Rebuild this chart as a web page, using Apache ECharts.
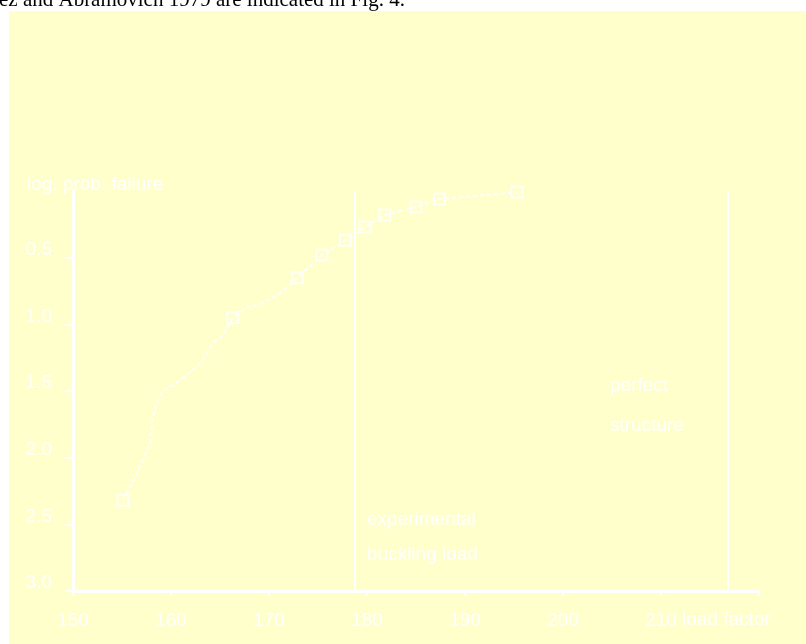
<!DOCTYPE html>
<html>
<head>
<meta charset="utf-8">
<script src="https://cdn.jsdelivr.net/npm/echarts@6/dist/echarts.min.js"></script>
<style>
html,body{margin:0;padding:0;background:#fff;}
#chart{width:806px;height:644px;}
</style>
</head>
<body>
<div id="chart"></div>
<script>
// Dashed curve through the data (load factor, log. prob. failure)
var curveX = [155.1,156.3,157.1,157.9,158.1,158.6,159.2,160.6,161.6,163.0,163.8,164.3,165.3,166.3,167.8,168.8,169.8,171.1,172.9,175.4,177.8,179.8,181.8,185.0,187.4,195.3];
var curveY = [2.32,2.15,2.02,1.89,1.72,1.57,1.50,1.44,1.38,1.29,1.20,1.14,1.08,0.95,0.87,0.86,0.82,0.77,0.65,0.48,0.37,0.27,0.18,0.12,0.06,0.01];
// Measured points (square markers)
var pointX = [155.1,166.3,172.9,175.4,177.8,179.8,181.8,185.0,187.4,195.3];
var pointY = [2.32,0.95,0.65,0.48,0.37,0.27,0.18,0.12,0.06,0.01];
// Tick labels
var xLabels = [150,160,170,180,190,200,210];
var yLabels = [0.5,1.0,1.5,2.0,2.5,3.0];
// Reference load lines
var experimentalLoad = 178.8;
var perfectLoad = 216.8;

var FONT = '"Liberation Sans", Arial, sans-serif';
var chart = echarts.init(document.getElementById('chart'));
var curveData = curveX.map(function(x,i){return [x, curveY[i]];});
var pointData = pointX.map(function(x,i){return [x, pointY[i]];});

chart.setOption({
  backgroundColor: '#ffffff',
  animation: false,
  grid: {left: 73, right: 47, top: 191, bottom: 53},
  xAxis: {
    type: 'value', min: 150, max: 220, interval: 10, position: 'bottom',
    axisLine: {show: true, onZero: false, lineStyle: {color: '#fff', width: 3}},
    axisTick: {show: true, length: 5, lineStyle: {color: '#fff', width: 2}},
    axisLabel: {customValues: xLabels, color: '#fff', fontSize: 19, fontFamily: FONT, margin: 20},
    splitLine: {show: false}
  },
  yAxis: {
    type: 'value', inverse: true, min: 0, max: 3, interval: 0.5,
    axisLine: {show: true, onZero: false, lineStyle: {color: '#fff', width: 3}},
    axisTick: {show: true, customValues: yLabels, length: 8, lineStyle: {color: '#fff', width: 2}},
    axisLabel: {customValues: yLabels, color: '#fff', fontSize: 19, fontFamily: FONT, margin: 21,
      verticalAlign: 'bottom', lineHeight: 16,
      formatter: function(v){return v.toFixed(1);}},
    splitLine: {show: false}
  },
  graphic: [
    {type: 'rect', z: -10, silent: true, shape: {x: 9, y: 11, width: 800, height: 640}, style: {fill: '#ffffcc'}},
    {type: 'text', x: -1, y: -10, style: {text: 'ez and Abramovich 1979 are indicated in Fig. 4.', font: '21px "Liberation Serif", "Times New Roman", serif', fill: '#000', verticalAlign: 'top'}},
    {type: 'text', x: 27, y: 185, style: {text: 'log. prob. failure', font: '19px ' + FONT, fill: '#fff', verticalAlign: 'middle'}},
    {type: 'text', x: 682, y: 620, style: {text: 'load factor', font: '19px ' + FONT, fill: '#fff', verticalAlign: 'middle'}},
    {type: 'text', x: 367, y: 520, style: {text: 'experimental', font: '19px ' + FONT, fill: '#fff', verticalAlign: 'middle'}},
    {type: 'text', x: 367, y: 555, style: {text: 'buckling load', font: '19px ' + FONT, fill: '#fff', verticalAlign: 'middle'}},
    {type: 'text', x: 610, y: 386, style: {text: 'perfect', font: '19px ' + FONT, fill: '#fff', verticalAlign: 'middle'}},
    {type: 'text', x: 610, y: 426, style: {text: 'structure', font: '19px ' + FONT, fill: '#fff', verticalAlign: 'middle'}}
  ],
  series: [
    {
      type: 'line', data: curveData, symbol: 'none', smooth: false,
      lineStyle: {color: '#fff', width: 2, type: [4, 3]},
      markLine: {
        silent: true, symbol: 'none', label: {show: false},
        lineStyle: {color: '#fff', width: 2, type: 'solid'},
        data: [{xAxis: experimentalLoad}, {xAxis: perfectLoad}]
      }
    },
    {
      type: 'scatter', data: pointData, symbol: 'rect', symbolSize: 11,
      itemStyle: {color: 'rgba(0,0,0,0)', borderColor: '#fff', borderWidth: 2}
    }
  ]
});
</script>
</body>
</html>
